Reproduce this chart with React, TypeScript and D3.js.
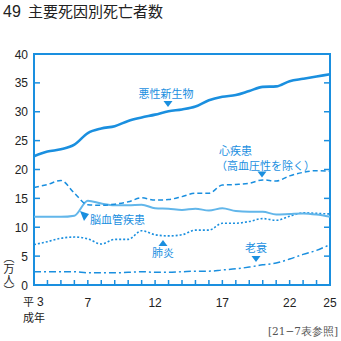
import React from "react";
import * as d3 from "d3";

const years = d3.range(3, 26);
const cancer = [22.3, 23.1, 23.5, 24.3, 26.3, 27.1, 27.5, 28.4, 29.0, 29.5, 30.1, 30.4, 30.9, 32.0, 32.6, 32.9, 33.6, 34.3, 34.4, 35.3, 35.7, 36.1, 36.5];
const heart = [16.9, 17.4, 18.1, 15.9, 13.9, 13.8, 14.0, 14.4, 15.1, 14.7, 14.8, 15.3, 15.9, 15.9, 17.3, 17.4, 17.6, 18.2, 18.0, 18.9, 19.5, 19.8, 19.7];
const cerebro = [11.8, 11.8, 11.8, 12.0, 14.6, 14.1, 13.8, 13.8, 13.9, 13.3, 13.2, 13.0, 13.2, 12.9, 13.3, 12.8, 12.7, 12.7, 12.2, 12.3, 12.4, 12.2, 11.8];
const pneumonia = [7.0, 7.5, 8.1, 8.3, 8.0, 7.1, 7.9, 7.9, 9.4, 8.7, 8.5, 8.7, 9.5, 9.5, 10.7, 10.7, 11.0, 11.5, 11.2, 11.9, 12.5, 12.4, 12.3];
const senility = [2.3, 2.3, 2.3, 2.3, 2.1, 2.1, 2.1, 2.2, 2.3, 2.2, 2.2, 2.3, 2.4, 2.4, 2.6, 2.8, 3.1, 3.5, 3.8, 4.5, 5.3, 6.0, 7.0];
const yTicks = [0, 5, 10, 15, 20, 25, 30, 35, 40];
const xLabels = [7, 12, 17, 22, 25];

const BLUE = "#1a8fdf";
const LIGHT = "#62b6ea";
const FONT = "'Liberation Sans', Arial, sans-serif";
const JP = "'Noto Sans CJK JP', sans-serif";

export default function App() {
  const x = d3.scaleLinear().domain([3, 25]).range([34, 330]);
  const y = d3.scaleLinear().domain([0, 40]).range([285, 54]);
  const line = (vals: number[]) =>
    d3.line<number>().x((_, i) => x(years[i])).y((d) => y(d)).curve(d3.curveMonotoneX)(vals) || "";

  const tri = (cx: number, cy: number, dir: "down" | "up") => {
    const w = 4.5, h = 6;
    return dir === "down"
      ? `M${cx - w},${cy} L${cx + w},${cy} L${cx},${cy + h} Z`
      : `M${cx - w},${cy + h} L${cx + w},${cy + h} L${cx},${cy} Z`;
  };

  return (
    <svg width={341} height={341} style={{ position: "absolute", left: 0, top: 0, background: "#fff" }}>
      <text x={3} y={17} fontFamily={FONT} fontSize={16} fill="#222">49</text>
      <text x={28} y={17} fontFamily={JP} fontSize={15} fill="#222">主要死因別死亡者数</text>

      {/* frame */}
      <rect x={x(3)} y={y(40)} width={x(25) - x(3)} height={y(0) - y(40)} fill="none" stroke={BLUE} strokeWidth={2} />

      {/* y ticks */}
      {yTicks.map((t) => (
        <g key={t}>
          {t > 0 && t < 40 && (
            <>
              <line x1={x(3)} x2={x(3) + 6} y1={y(t)} y2={y(t)} stroke={BLUE} strokeWidth={1.5} />
              <line x1={x(25)} x2={x(25) - 6} y1={y(t)} y2={y(t)} stroke={BLUE} strokeWidth={1.5} />
            </>
          )}
          <text x={28} y={y(t) + 4.5} textAnchor="end" fontFamily={FONT} fontSize={12} fill="#222">{t}</text>
        </g>
      ))}

      {/* x ticks */}
      {years.slice(1, -1).map((yr) => (
        <line key={yr} x1={x(yr)} x2={x(yr)} y1={y(0)} y2={y(0) - 5} stroke={BLUE} strokeWidth={1.5} />
      ))}

      {/* x labels */}
      <text x={23} y={306} fontFamily={JP} fontSize={11} fill="#222">平</text>
      <text x={37} y={306} fontFamily={FONT} fontSize={12} fill="#222">3</text>
      <text x={23} y={322} fontFamily={JP} fontSize={11} fill="#222">成年</text>
      {xLabels.map((v) => (
        <text key={v} x={x(v)} y={307} textAnchor="middle" fontFamily={FONT} fontSize={12} fill="#222">{v}</text>
      ))}

      {/* unit */}
      <text x={9} y={252} fontFamily={JP} fontSize={11} fill="#222" style={{ writingMode: "vertical-rl" } as any}>（万人）</text>

      {/* series */}
      <path d={line(senility)} fill="none" stroke={BLUE} strokeWidth={1.5} strokeDasharray="7,3,2,3" />
      <path d={line(pneumonia)} fill="none" stroke={BLUE} strokeWidth={1.6} strokeDasharray="2,2" />
      <path d={line(cerebro)} fill="none" stroke={LIGHT} strokeWidth={2} />
      <path d={line(heart)} fill="none" stroke={BLUE} strokeWidth={1.5} strokeDasharray="5,3" />
      <path d={line(cancer)} fill="none" stroke={BLUE} strokeWidth={2.6} />

      {/* annotations */}
      <text x={166} y={98} textAnchor="middle" fontFamily={JP} fontSize={11} fill={BLUE}>悪性新生物</text>
      <path d={tri(168, 101, "down")} fill={BLUE} />

      <text x={219} y={155} fontFamily={JP} fontSize={11} fill={BLUE}>心疾患</text>
      <text x={216} y={169.5} fontFamily={JP} fontSize={11} fill={BLUE}>（高血圧性を除く）</text>
      <path d={tri(262, 171.5, "down")} fill={BLUE} />

      <path d="M80,211 L89,214 L84,221 Z" fill={BLUE} />
      <text x={90} y={224} fontFamily={JP} fontSize={11} fill={BLUE}>脳血管疾患</text>

      <path d={tri(163, 240, "up")} fill={BLUE} />
      <text x={163} y={257} textAnchor="middle" fontFamily={JP} fontSize={11} fill={BLUE}>肺炎</text>

      <text x={256} y={252} textAnchor="middle" fontFamily={JP} fontSize={11} fill={BLUE}>老衰</text>
      <path d={tri(256, 256, "down")} fill={BLUE} />

      <text x={338} y={335} textAnchor="end" fontFamily="'DejaVu Serif', serif" fontSize={10.5} fill="#555">[21−7表参照]</text>
    </svg>
  );
}
